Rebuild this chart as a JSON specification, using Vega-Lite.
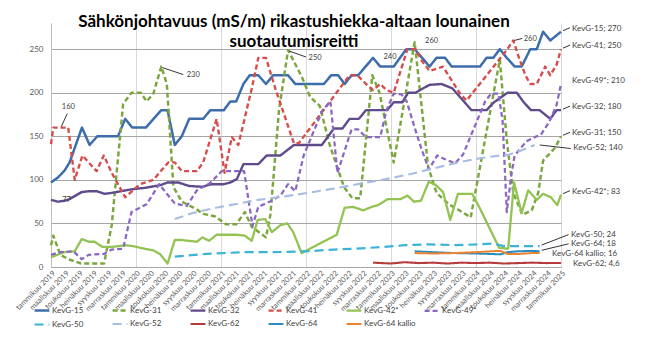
{
"$schema":"https://vega.github.io/schema/vega-lite/v6.json",
"width":510,"height":244,
"autosize":{"type":"none"},
"padding":{"left":51,"top":23,"right":92,"bottom":82},
"background":"white",
"config":{"view":{"stroke":null},"font":"Lato"},
"title":{"text":["Sähkönjohtavuus (mS/m) rikastushiekka-altaan lounainen","suotautumisreitti"],"anchor":"middle","frame":"group","font":"Lato","fontSize":17,"fontWeight":"bold","color":"#000000","lineHeight":20.5,"baseline":"alphabetic","offset":-23,"dx":-12,"dy":18},
"datasets":{
"series":[
{"series":"KevG-15","date":"2019-01-01","value":97},{"series":"KevG-15","date":"2019-02-01","value":103},{"series":"KevG-15","date":"2019-03-01","value":111},{"series":"KevG-15","date":"2019-03-22","value":120},{"series":"KevG-15","date":"2019-05-14","value":160},{"series":"KevG-15","date":"2019-06-16","value":140},{"series":"KevG-15","date":"2019-07-19","value":150},{"series":"KevG-15","date":"2019-10-16","value":150},{"series":"KevG-15","date":"2019-11-16","value":170},{"series":"KevG-15","date":"2019-12-16","value":160},{"series":"KevG-15","date":"2020-02-13","value":160},{"series":"KevG-15","date":"2020-04-19","value":180},{"series":"KevG-15","date":"2020-05-16","value":180},{"series":"KevG-15","date":"2020-06-16","value":140},{"series":"KevG-15","date":"2020-07-16","value":150},{"series":"KevG-15","date":"2020-08-17","value":170},{"series":"KevG-15","date":"2020-10-16","value":170},{"series":"KevG-15","date":"2020-11-16","value":180},{"series":"KevG-15","date":"2021-01-13","value":180},{"series":"KevG-15","date":"2021-02-10","value":190},{"series":"KevG-15","date":"2021-03-07","value":190},{"series":"KevG-15","date":"2021-04-07","value":210},{"series":"KevG-15","date":"2021-05-04","value":220},{"series":"KevG-15","date":"2021-06-10","value":220},{"series":"KevG-15","date":"2021-07-13","value":210},{"series":"KevG-15","date":"2021-08-13","value":220},{"series":"KevG-15","date":"2021-10-16","value":220},{"series":"KevG-15","date":"2021-11-16","value":210},{"series":"KevG-15","date":"2022-03-19","value":210},{"series":"KevG-15","date":"2022-04-19","value":220},{"series":"KevG-15","date":"2022-05-19","value":220},{"series":"KevG-15","date":"2022-06-16","value":210},{"series":"KevG-15","date":"2022-07-16","value":220},{"series":"KevG-15","date":"2022-08-13","value":220},{"series":"KevG-15","date":"2022-10-16","value":240},{"series":"KevG-15","date":"2022-11-16","value":230},{"series":"KevG-15","date":"2023-01-13","value":230},{"series":"KevG-15","date":"2023-03-08","value":250},{"series":"KevG-15","date":"2023-04-13","value":250},{"series":"KevG-15","date":"2023-06-16","value":230},{"series":"KevG-15","date":"2023-07-16","value":240},{"series":"KevG-15","date":"2023-08-22","value":240},{"series":"KevG-15","date":"2023-09-19","value":230},{"series":"KevG-15","date":"2024-01-19","value":230},{"series":"KevG-15","date":"2024-02-16","value":240},{"series":"KevG-15","date":"2024-03-16","value":240},{"series":"KevG-15","date":"2024-04-13","value":250},{"series":"KevG-15","date":"2024-05-13","value":240},{"series":"KevG-15","date":"2024-06-16","value":230},{"series":"KevG-15","date":"2024-07-16","value":230},{"series":"KevG-15","date":"2024-08-22","value":250},{"series":"KevG-15","date":"2024-09-19","value":250},{"series":"KevG-15","date":"2024-10-16","value":270},{"series":"KevG-15","date":"2024-11-16","value":260},{"series":"KevG-15","date":"2025-01-01","value":270},
{"series":"KevG-31","date":"2019-01-01","value":25},{"series":"KevG-31","date":"2019-01-11","value":36},{"series":"KevG-31","date":"2019-02-10","value":14},{"series":"KevG-31","date":"2019-03-16","value":9},{"series":"KevG-31","date":"2019-05-10","value":4},{"series":"KevG-31","date":"2019-08-17","value":4},{"series":"KevG-31","date":"2019-09-19","value":48},{"series":"KevG-31","date":"2019-11-07","value":187},{"series":"KevG-31","date":"2019-12-13","value":200},{"series":"KevG-31","date":"2020-01-22","value":200},{"series":"KevG-31","date":"2020-02-16","value":190},{"series":"KevG-31","date":"2020-03-16","value":199},{"series":"KevG-31","date":"2020-04-19","value":230},{"series":"KevG-31","date":"2020-05-13","value":210},{"series":"KevG-31","date":"2020-06-10","value":92},{"series":"KevG-31","date":"2020-07-16","value":75},{"series":"KevG-31","date":"2020-09-19","value":66},{"series":"KevG-31","date":"2020-10-16","value":61},{"series":"KevG-31","date":"2020-12-07","value":58},{"series":"KevG-31","date":"2021-01-22","value":49},{"series":"KevG-31","date":"2021-03-07","value":49},{"series":"KevG-31","date":"2021-04-13","value":63},{"series":"KevG-31","date":"2021-05-13","value":46},{"series":"KevG-31","date":"2021-07-13","value":34},{"series":"KevG-31","date":"2021-08-01","value":60},{"series":"KevG-31","date":"2021-09-07","value":180},{"series":"KevG-31","date":"2021-10-16","value":249},{"series":"KevG-31","date":"2021-12-16","value":217},{"series":"KevG-31","date":"2022-01-19","value":195},{"series":"KevG-31","date":"2022-03-01","value":185},{"series":"KevG-31","date":"2022-04-13","value":140},{"series":"KevG-31","date":"2022-06-13","value":92},{"series":"KevG-31","date":"2022-07-19","value":79},{"series":"KevG-31","date":"2022-08-22","value":79},{"series":"KevG-31","date":"2022-10-13","value":220},{"series":"KevG-31","date":"2022-11-13","value":200},{"series":"KevG-31","date":"2023-01-13","value":120},{"series":"KevG-31","date":"2023-04-13","value":258},{"series":"KevG-31","date":"2023-06-10","value":115},{"series":"KevG-31","date":"2023-07-16","value":85},{"series":"KevG-31","date":"2023-09-07","value":72},{"series":"KevG-31","date":"2023-10-16","value":66},{"series":"KevG-31","date":"2023-12-10","value":57},{"series":"KevG-31","date":"2024-04-13","value":238},{"series":"KevG-31","date":"2024-05-13","value":145},{"series":"KevG-31","date":"2024-06-10","value":85},{"series":"KevG-31","date":"2024-07-19","value":60},{"series":"KevG-31","date":"2024-08-28","value":65},{"series":"KevG-31","date":"2024-09-25","value":85},{"series":"KevG-31","date":"2024-10-16","value":122},{"series":"KevG-31","date":"2024-12-07","value":137},{"series":"KevG-31","date":"2025-01-01","value":150},
{"series":"KevG-32","date":"2019-01-01","value":77},{"series":"KevG-32","date":"2019-02-01","value":75},{"series":"KevG-32","date":"2019-03-01","value":76},{"series":"KevG-32","date":"2019-03-22","value":78},{"series":"KevG-32","date":"2019-05-13","value":86},{"series":"KevG-32","date":"2019-06-16","value":87},{"series":"KevG-32","date":"2019-07-16","value":87},{"series":"KevG-32","date":"2019-08-19","value":84},{"series":"KevG-32","date":"2019-09-19","value":85},{"series":"KevG-32","date":"2019-12-10","value":89},{"series":"KevG-32","date":"2020-02-13","value":91},{"series":"KevG-32","date":"2020-04-16","value":94},{"series":"KevG-32","date":"2020-05-16","value":97},{"series":"KevG-32","date":"2020-07-01","value":97},{"series":"KevG-32","date":"2020-08-16","value":93},{"series":"KevG-32","date":"2020-10-13","value":92},{"series":"KevG-32","date":"2020-11-19","value":95},{"series":"KevG-32","date":"2021-01-13","value":95},{"series":"KevG-32","date":"2021-02-10","value":97},{"series":"KevG-32","date":"2021-03-10","value":101},{"series":"KevG-32","date":"2021-04-07","value":118},{"series":"KevG-32","date":"2021-06-10","value":118},{"series":"KevG-32","date":"2021-07-16","value":128},{"series":"KevG-32","date":"2021-09-13","value":128},{"series":"KevG-32","date":"2021-11-10","value":140},{"series":"KevG-32","date":"2022-03-10","value":140},{"series":"KevG-32","date":"2022-05-01","value":159},{"series":"KevG-32","date":"2022-06-07","value":159},{"series":"KevG-32","date":"2022-07-07","value":170},{"series":"KevG-32","date":"2022-08-16","value":170},{"series":"KevG-32","date":"2022-09-16","value":180},{"series":"KevG-32","date":"2022-12-16","value":180},{"series":"KevG-32","date":"2023-01-13","value":189},{"series":"KevG-32","date":"2023-02-19","value":189},{"series":"KevG-32","date":"2023-03-16","value":200},{"series":"KevG-32","date":"2023-04-16","value":200},{"series":"KevG-32","date":"2023-05-19","value":205},{"series":"KevG-32","date":"2023-06-16","value":209},{"series":"KevG-32","date":"2023-08-07","value":210},{"series":"KevG-32","date":"2023-09-22","value":205},{"series":"KevG-32","date":"2023-10-25","value":195},{"series":"KevG-32","date":"2023-12-13","value":180},{"series":"KevG-32","date":"2024-02-16","value":180},{"series":"KevG-32","date":"2024-03-19","value":189},{"series":"KevG-32","date":"2024-05-16","value":200},{"series":"KevG-32","date":"2024-06-25","value":200},{"series":"KevG-32","date":"2024-07-25","value":189},{"series":"KevG-32","date":"2024-08-25","value":180},{"series":"KevG-32","date":"2024-10-01","value":180},{"series":"KevG-32","date":"2024-11-16","value":170},{"series":"KevG-32","date":"2024-12-13","value":180},{"series":"KevG-32","date":"2025-01-01","value":180},
{"series":"KevG-41","date":"2019-01-01","value":141},{"series":"KevG-41","date":"2019-01-11","value":160},{"series":"KevG-41","date":"2019-03-16","value":160},{"series":"KevG-41","date":"2019-04-13","value":100},{"series":"KevG-41","date":"2019-05-16","value":128},{"series":"KevG-41","date":"2019-07-16","value":110},{"series":"KevG-41","date":"2019-08-16","value":128},{"series":"KevG-41","date":"2019-09-19","value":108},{"series":"KevG-41","date":"2019-11-16","value":80},{"series":"KevG-41","date":"2020-01-19","value":95},{"series":"KevG-41","date":"2020-03-16","value":100},{"series":"KevG-41","date":"2020-05-19","value":120},{"series":"KevG-41","date":"2020-06-16","value":120},{"series":"KevG-41","date":"2020-07-16","value":110},{"series":"KevG-41","date":"2020-09-19","value":110},{"series":"KevG-41","date":"2020-10-16","value":120},{"series":"KevG-41","date":"2020-12-13","value":170},{"series":"KevG-41","date":"2021-01-16","value":108},{"series":"KevG-41","date":"2021-02-16","value":149},{"series":"KevG-41","date":"2021-03-16","value":140},{"series":"KevG-41","date":"2021-05-13","value":205},{"series":"KevG-41","date":"2021-06-10","value":240},{"series":"KevG-41","date":"2021-07-13","value":240},{"series":"KevG-41","date":"2021-08-22","value":205},{"series":"KevG-41","date":"2021-11-10","value":142},{"series":"KevG-41","date":"2021-12-01","value":142},{"series":"KevG-41","date":"2022-07-07","value":220},{"series":"KevG-41","date":"2022-08-10","value":220},{"series":"KevG-41","date":"2022-09-16","value":210},{"series":"KevG-41","date":"2022-10-16","value":203},{"series":"KevG-41","date":"2022-11-16","value":210},{"series":"KevG-41","date":"2022-12-13","value":203},{"series":"KevG-41","date":"2023-01-13","value":200},{"series":"KevG-41","date":"2023-03-13","value":250},{"series":"KevG-41","date":"2023-04-16","value":250},{"series":"KevG-41","date":"2023-05-13","value":237},{"series":"KevG-41","date":"2023-06-16","value":225},{"series":"KevG-41","date":"2023-08-13","value":230},{"series":"KevG-41","date":"2023-10-25","value":199},{"series":"KevG-41","date":"2023-11-22","value":191},{"series":"KevG-41","date":"2024-05-13","value":249},{"series":"KevG-41","date":"2024-06-10","value":260},{"series":"KevG-41","date":"2024-07-07","value":238},{"series":"KevG-41","date":"2024-08-01","value":220},{"series":"KevG-41","date":"2024-08-22","value":210},{"series":"KevG-41","date":"2024-09-19","value":210},{"series":"KevG-41","date":"2024-10-25","value":230},{"series":"KevG-41","date":"2024-11-16","value":220},{"series":"KevG-41","date":"2024-12-13","value":232},{"series":"KevG-41","date":"2025-01-01","value":250},
{"series":"KevG-42*","date":"2019-01-01","value":11},{"series":"KevG-42*","date":"2019-02-25","value":17},{"series":"KevG-42*","date":"2019-04-13","value":18},{"series":"KevG-42*","date":"2019-05-13","value":32},{"series":"KevG-42*","date":"2019-06-13","value":29},{"series":"KevG-42*","date":"2019-07-07","value":29},{"series":"KevG-42*","date":"2019-08-10","value":23},{"series":"KevG-42*","date":"2019-09-19","value":23},{"series":"KevG-42*","date":"2019-11-16","value":25},{"series":"KevG-42*","date":"2019-12-19","value":24},{"series":"KevG-42*","date":"2020-01-19","value":22},{"series":"KevG-42*","date":"2020-03-16","value":19},{"series":"KevG-42*","date":"2020-04-13","value":15},{"series":"KevG-42*","date":"2020-05-16","value":4},{"series":"KevG-42*","date":"2020-06-16","value":31},{"series":"KevG-42*","date":"2020-07-16","value":31},{"series":"KevG-42*","date":"2020-08-16","value":30},{"series":"KevG-42*","date":"2020-09-19","value":29},{"series":"KevG-42*","date":"2020-10-13","value":34},{"series":"KevG-42*","date":"2020-11-10","value":30},{"series":"KevG-42*","date":"2020-12-13","value":37},{"series":"KevG-42*","date":"2021-01-19","value":37},{"series":"KevG-42*","date":"2021-03-07","value":37},{"series":"KevG-42*","date":"2021-04-13","value":36},{"series":"KevG-42*","date":"2021-05-13","value":30},{"series":"KevG-42*","date":"2021-06-07","value":54},{"series":"KevG-42*","date":"2021-07-10","value":55},{"series":"KevG-42*","date":"2021-08-07","value":40},{"series":"KevG-42*","date":"2021-09-13","value":48},{"series":"KevG-42*","date":"2021-10-13","value":50},{"series":"KevG-42*","date":"2021-11-07","value":40},{"series":"KevG-42*","date":"2021-12-13","value":16},{"series":"KevG-42*","date":"2022-05-13","value":37},{"series":"KevG-42*","date":"2022-06-16","value":68},{"series":"KevG-42*","date":"2022-07-22","value":69},{"series":"KevG-42*","date":"2022-09-04","value":65},{"series":"KevG-42*","date":"2022-10-10","value":69},{"series":"KevG-42*","date":"2022-11-07","value":71},{"series":"KevG-42*","date":"2022-12-19","value":78},{"series":"KevG-42*","date":"2023-02-13","value":78},{"series":"KevG-42*","date":"2023-03-13","value":82},{"series":"KevG-42*","date":"2023-04-10","value":75},{"series":"KevG-42*","date":"2023-05-10","value":76},{"series":"KevG-42*","date":"2023-06-13","value":98},{"series":"KevG-42*","date":"2023-07-13","value":94},{"series":"KevG-42*","date":"2023-08-13","value":86},{"series":"KevG-42*","date":"2023-09-13","value":54},{"series":"KevG-42*","date":"2023-10-16","value":84},{"series":"KevG-42*","date":"2023-12-16","value":84},{"series":"KevG-42*","date":"2024-01-19","value":67},{"series":"KevG-42*","date":"2024-04-10","value":22},{"series":"KevG-42*","date":"2024-05-19","value":21},{"series":"KevG-42*","date":"2024-06-13","value":97},{"series":"KevG-42*","date":"2024-07-16","value":62},{"series":"KevG-42*","date":"2024-08-13","value":88},{"series":"KevG-42*","date":"2024-09-19","value":77},{"series":"KevG-42*","date":"2024-10-16","value":84},{"series":"KevG-42*","date":"2024-11-19","value":80},{"series":"KevG-42*","date":"2024-12-16","value":71},{"series":"KevG-42*","date":"2025-01-01","value":83},
{"series":"KevG-49*","date":"2019-01-01","value":14},{"series":"KevG-49*","date":"2019-02-10","value":17},{"series":"KevG-49*","date":"2019-04-07","value":18},{"series":"KevG-49*","date":"2019-05-13","value":9},{"series":"KevG-49*","date":"2019-06-13","value":14},{"series":"KevG-49*","date":"2019-08-16","value":15},{"series":"KevG-49*","date":"2019-09-19","value":20},{"series":"KevG-49*","date":"2019-11-07","value":21},{"series":"KevG-49*","date":"2019-12-13","value":63},{"series":"KevG-49*","date":"2020-02-16","value":72},{"series":"KevG-49*","date":"2020-04-10","value":95},{"series":"KevG-49*","date":"2020-05-19","value":82},{"series":"KevG-49*","date":"2020-06-16","value":73},{"series":"KevG-49*","date":"2020-08-07","value":70},{"series":"KevG-49*","date":"2020-09-19","value":88},{"series":"KevG-49*","date":"2020-11-13","value":96},{"series":"KevG-49*","date":"2021-01-04","value":110},{"series":"KevG-49*","date":"2021-04-10","value":110},{"series":"KevG-49*","date":"2021-05-16","value":47},{"series":"KevG-49*","date":"2021-06-10","value":69},{"series":"KevG-49*","date":"2021-08-07","value":76},{"series":"KevG-49*","date":"2021-09-13","value":82},{"series":"KevG-49*","date":"2021-10-16","value":95},{"series":"KevG-49*","date":"2021-11-16","value":87},{"series":"KevG-49*","date":"2021-12-22","value":128},{"series":"KevG-49*","date":"2022-03-13","value":180},{"series":"KevG-49*","date":"2022-04-16","value":190},{"series":"KevG-49*","date":"2022-05-16","value":108},{"series":"KevG-49*","date":"2022-07-16","value":158},{"series":"KevG-49*","date":"2022-08-13","value":158},{"series":"KevG-49*","date":"2022-09-16","value":149},{"series":"KevG-49*","date":"2022-11-16","value":149},{"series":"KevG-49*","date":"2022-12-13","value":180},{"series":"KevG-49*","date":"2023-01-13","value":199},{"series":"KevG-49*","date":"2023-02-16","value":198},{"series":"KevG-49*","date":"2023-03-10","value":190},{"series":"KevG-49*","date":"2023-04-13","value":160},{"series":"KevG-49*","date":"2023-05-13","value":135},{"series":"KevG-49*","date":"2023-06-13","value":112},{"series":"KevG-49*","date":"2023-07-19","value":128},{"series":"KevG-49*","date":"2023-08-19","value":124},{"series":"KevG-49*","date":"2023-10-04","value":119},{"series":"KevG-49*","date":"2023-11-07","value":129},{"series":"KevG-49*","date":"2023-12-22","value":158},{"series":"KevG-49*","date":"2024-02-10","value":190},{"series":"KevG-49*","date":"2024-03-07","value":199},{"series":"KevG-49*","date":"2024-04-07","value":199},{"series":"KevG-49*","date":"2024-04-25","value":168},{"series":"KevG-49*","date":"2024-05-13","value":63},{"series":"KevG-49*","date":"2024-06-01","value":105},{"series":"KevG-49*","date":"2024-06-16","value":128},{"series":"KevG-49*","date":"2024-08-04","value":144},{"series":"KevG-49*","date":"2024-09-10","value":149},{"series":"KevG-49*","date":"2024-10-07","value":152},{"series":"KevG-49*","date":"2024-11-10","value":166},{"series":"KevG-49*","date":"2024-12-13","value":186},{"series":"KevG-49*","date":"2025-01-01","value":210},
{"series":"KevG-50","date":"2020-06-16","value":12},{"series":"KevG-50","date":"2020-11-01","value":15},{"series":"KevG-50","date":"2021-04-01","value":17},{"series":"KevG-50","date":"2021-08-16","value":17},{"series":"KevG-50","date":"2022-01-01","value":18},{"series":"KevG-50","date":"2022-05-01","value":20},{"series":"KevG-50","date":"2022-08-01","value":21},{"series":"KevG-50","date":"2022-12-01","value":23},{"series":"KevG-50","date":"2023-03-01","value":25},{"series":"KevG-50","date":"2023-06-16","value":26},{"series":"KevG-50","date":"2023-10-10","value":25},{"series":"KevG-50","date":"2024-01-19","value":26},{"series":"KevG-50","date":"2024-03-16","value":27},{"series":"KevG-50","date":"2024-05-01","value":24},{"series":"KevG-50","date":"2024-07-16","value":24},{"series":"KevG-50","date":"2024-10-01","value":24},
{"series":"KevG-52","date":"2020-06-16","value":55},{"series":"KevG-52","date":"2020-09-01","value":62},{"series":"KevG-52","date":"2020-12-10","value":68},{"series":"KevG-52","date":"2021-03-01","value":72},{"series":"KevG-52","date":"2021-06-10","value":77},{"series":"KevG-52","date":"2021-10-01","value":81},{"series":"KevG-52","date":"2022-01-07","value":85},{"series":"KevG-52","date":"2022-05-01","value":90},{"series":"KevG-52","date":"2022-09-01","value":96},{"series":"KevG-52","date":"2023-01-01","value":102},{"series":"KevG-52","date":"2023-04-01","value":107},{"series":"KevG-52","date":"2023-06-16","value":112},{"series":"KevG-52","date":"2023-08-16","value":116},{"series":"KevG-52","date":"2023-10-16","value":120},{"series":"KevG-52","date":"2024-01-01","value":124},{"series":"KevG-52","date":"2024-03-16","value":127},{"series":"KevG-52","date":"2024-05-25","value":129},{"series":"KevG-52","date":"2024-07-16","value":134},{"series":"KevG-52","date":"2024-09-10","value":140},
{"series":"KevG-62","date":"2022-10-16","value":5},{"series":"KevG-62","date":"2023-01-01","value":4},{"series":"KevG-62","date":"2023-03-01","value":5.5},{"series":"KevG-62","date":"2023-05-01","value":4.5},{"series":"KevG-62","date":"2023-07-01","value":5},{"series":"KevG-62","date":"2023-09-01","value":4},{"series":"KevG-62","date":"2023-11-01","value":5},{"series":"KevG-62","date":"2024-01-01","value":4.5},{"series":"KevG-62","date":"2024-03-01","value":5},{"series":"KevG-62","date":"2024-05-01","value":4},{"series":"KevG-62","date":"2024-07-01","value":4.5},{"series":"KevG-62","date":"2024-09-01","value":5},{"series":"KevG-62","date":"2024-11-01","value":4.5},{"series":"KevG-62","date":"2025-01-01","value":4.6},
{"series":"KevG-64","date":"2023-04-13","value":18},{"series":"KevG-64","date":"2023-07-01","value":17},{"series":"KevG-64","date":"2023-10-01","value":16},{"series":"KevG-64","date":"2024-01-01","value":15.5},{"series":"KevG-64","date":"2024-03-01","value":15},{"series":"KevG-64","date":"2024-04-16","value":14.5},{"series":"KevG-64","date":"2024-05-16","value":17},{"series":"KevG-64","date":"2024-07-01","value":18},{"series":"KevG-64","date":"2024-09-01","value":18.5},{"series":"KevG-64","date":"2024-10-01","value":18},
{"series":"KevG-64 kallio","date":"2023-04-13","value":16},{"series":"KevG-64 kallio","date":"2023-07-01","value":15.5},{"series":"KevG-64 kallio","date":"2023-10-01","value":16},{"series":"KevG-64 kallio","date":"2024-01-01","value":17},{"series":"KevG-64 kallio","date":"2024-03-01","value":18},{"series":"KevG-64 kallio","date":"2024-04-16","value":18.5},{"series":"KevG-64 kallio","date":"2024-05-16","value":15},{"series":"KevG-64 kallio","date":"2024-07-01","value":15},{"series":"KevG-64 kallio","date":"2024-09-01","value":16},{"series":"KevG-64 kallio","date":"2024-10-01","value":16}
],
"labels":[
{"series":"KevG-15","date":"2025-01-01","value":270,"label":"KevG-15; 270"},
{"series":"KevG-41","date":"2025-01-01","value":250,"label":"KevG-41; 250"},
{"series":"KevG-49*","date":"2025-01-01","value":210,"label":"KevG-49*; 210"},
{"series":"KevG-32","date":"2025-01-01","value":180,"label":"KevG-32; 180"},
{"series":"KevG-31","date":"2025-01-01","value":150,"label":"KevG-31; 150"},
{"series":"KevG-42*","date":"2025-01-01","value":83,"label":"KevG-42*; 83"},
{"series":"KevG-52","date":"2024-09-10","value":140,"label":"KevG-52; 140"},
{"series":"KevG-50","date":"2024-10-01","value":24,"label":"KevG-50; 24"},
{"series":"KevG-64","date":"2024-10-01","value":18,"label":"KevG-64; 18"},
{"series":"KevG-64 kallio","date":"2024-10-01","value":16,"label":"KevG-64 kallio; 16"},
{"series":"KevG-62","date":"2025-01-01","value":4.6,"label":"KevG-62; 4,6"},
{"series":"KevG-41","date":"2019-01-11","value":160,"label":"160"},
{"series":"KevG-31","date":"2020-04-19","value":230,"label":"230"},
{"series":"KevG-31","date":"2021-10-16","value":249,"label":"250"},
{"series":"KevG-15","date":"2022-10-16","value":240,"label":"240"},
{"series":"KevG-31","date":"2023-04-13","value":258,"label":"260"},
{"series":"KevG-41","date":"2024-06-10","value":260,"label":"260"},
{"series":"KevG-32","date":"2019-01-01","value":77,"label":"77"}
]
},
"encoding":{
"x":{"field":"date","type":"temporal","scale":{"type":"utc","domain":[{"year":2019,"month":1,"date":1,"utc":true},{"year":2025,"month":1,"date":1,"utc":true}]},
 "axis":{"title":null,"tickCount":{"interval":"month","step":2},"labelExpr":"['tammikuu','helmikuu','maaliskuu','huhtikuu','toukokuu','kesäkuu','heinäkuu','elokuu','syyskuu','lokakuu','marraskuu','joulukuu'][utcmonth(datum.value)] + ' ' + utcyear(datum.value)","labelAngle":-45,"labelAlign":"right","labelBaseline":"top","labelPadding":2,"labelFontSize":7.5,"labelColor":"#595959","labelFont":"Lato","labelOverlap":false,"labelFlush":false,"labelBound":false,"ticks":false,"tickSize":0,"domainColor":"#A6A6A6","grid":true,"gridColor":"#D9D9D9","gridOpacity":{"condition":{"test":"utcmonth(datum.value)==0","value":1},"value":0}}},
"y":{"field":"value","type":"quantitative","scale":{"domain":[0,280],"nice":false},
 "axis":{"title":null,"values":[0,50,100,150,200,250],"labelFontSize":8,"labelColor":"#595959","labelFont":"Lato","labelPadding":8,"ticks":false,"domainColor":"#BFBFBF","grid":true,"gridColor":"#A6A6A6"}}
},
"layer":[
{"data":{"name":"series"},
 "mark":{"type":"line","strokeJoin":"round","strokeCap":"butt"},
 "encoding":{
  "color":{"field":"series","type":"nominal","scale":{"domain":["KevG-15","KevG-31","KevG-32","KevG-41","KevG-42*","KevG-49*","KevG-50","KevG-52","KevG-62","KevG-64","KevG-64 kallio"],"range":["#3D6DAA","#7BA63E","#5F4B8B","#D64B4B","#93C353","#8A68C2","#3BB2D6","#A7BEE2","#B63B3B","#2B8CBE","#EC8330"]},
   "legend":{"orient":"none","legendX":-18,"legendY":278.5,"direction":"horizontal","columns":6,"title":null,"symbolType":"stroke","symbolSize":220,"labelFontSize":8,"labelColor":"#404040","labelFont":"Lato","labelOffset":1,"columnPadding":3,"rowPadding":-4.6,"gridAlign":"all","padding":0}},
  "strokeDash":{"field":"series","type":"nominal","scale":{"domain":["KevG-15","KevG-31","KevG-32","KevG-41","KevG-42*","KevG-49*","KevG-50","KevG-52","KevG-62","KevG-64","KevG-64 kallio"],"range":[[1,0],[5,3],[1,0],[5,3],[1,0],[5,3],[9,5],[9,5],[1,0],[1,0],[1,0]]},
   "legend":{"orient":"none","legendX":-18,"legendY":278.5,"direction":"horizontal","columns":6,"title":null,"symbolType":"stroke","symbolSize":220,"labelFontSize":8,"labelColor":"#404040","labelFont":"Lato","labelOffset":1,"columnPadding":3,"rowPadding":-4.6,"gridAlign":"all","padding":0}},
  "strokeWidth":{"field":"series","type":"nominal","scale":{"domain":["KevG-15","KevG-31","KevG-32","KevG-41","KevG-42*","KevG-49*","KevG-50","KevG-52","KevG-62","KevG-64","KevG-64 kallio"],"range":[2.5,2,2.5,2,2,2,3,3,1.6,1.6,1.6]},
   "legend":{"orient":"none","legendX":-18,"legendY":278.5,"direction":"horizontal","columns":6,"title":null,"symbolType":"stroke","symbolSize":220,"labelFontSize":8,"labelColor":"#404040","labelFont":"Lato","labelOffset":1,"columnPadding":3,"rowPadding":-4.6,"gridAlign":"all","padding":0}}
 }},
{"data":{"name":"labels"},"transform":[{"filter":"indexof(['KevG-15; 270','KevG-41; 250','KevG-32; 180','KevG-31; 150','KevG-42*; 83'], datum.label) >= 0"}],
 "mark":{"type":"rule","color":"#000000","strokeWidth":0.8,"xOffset":2,"yOffset":-1,"x2Offset":9,"y2Offset":-4},
 "encoding":{"x2":{"field":"date"},"y2":{"field":"value"}}},
{"data":{"name":"labels"},"transform":[{"filter":"datum.label=='KevG-52; 140'"}],
 "mark":{"type":"rule","color":"#000000","strokeWidth":0.8,"xOffset":5,"yOffset":0,"x2Offset":36,"y2Offset":3.5},
 "encoding":{"x2":{"field":"date"},"y2":{"field":"value"}}},
{"data":{"name":"labels"},"transform":[{"filter":"datum.label=='KevG-50; 24'"}],
 "mark":{"type":"rule","color":"#000000","strokeWidth":0.8,"xOffset":2,"yOffset":-1,"x2Offset":29,"y2Offset":-11.5},
 "encoding":{"x2":{"field":"date"},"y2":{"field":"value"}}},
{"data":{"name":"labels"},"transform":[{"filter":"datum.label=='KevG-64; 18'"}],
 "mark":{"type":"rule","color":"#000000","strokeWidth":0.8,"xOffset":2,"yOffset":-1,"x2Offset":29,"y2Offset":-7.5},
 "encoding":{"x2":{"field":"date"},"y2":{"field":"value"}}},
{"data":{"name":"labels"},"transform":[{"filter":"datum.label=='160'"}],
 "mark":{"type":"rule","color":"#000000","strokeWidth":0.8,"xOffset":8,"yOffset":-1,"x2Offset":14,"y2Offset":-14},
 "encoding":{"x2":{"field":"date"},"y2":{"field":"value"}}},
{"data":{"name":"labels"},"transform":[{"filter":"datum.label=='230'"}],
 "mark":{"type":"rule","color":"#000000","strokeWidth":0.8,"xOffset":1,"yOffset":1,"x2Offset":22,"y2Offset":8},
 "encoding":{"x2":{"field":"date"},"y2":{"field":"value"}}},
{"data":{"name":"labels"},"transform":[{"filter":"datum.label=='250'"}],
 "mark":{"type":"rule","color":"#000000","strokeWidth":0.8,"xOffset":1,"yOffset":1,"x2Offset":18,"y2Offset":7},
 "encoding":{"x2":{"field":"date"},"y2":{"field":"value"}}},
{"data":{"name":"labels"},"transform":[{"filter":"datum.label=='260' && datum.series=='KevG-41'"}],
 "mark":{"type":"rule","color":"#000000","strokeWidth":0.8,"xOffset":1,"yOffset":0,"x2Offset":9,"y2Offset":-2},
 "encoding":{"x2":{"field":"date"},"y2":{"field":"value"}}},
{"data":{"name":"labels"},"transform":[{"filter":"indexof(['KevG-15; 270','KevG-41; 250','KevG-49*; 210','KevG-32; 180','KevG-31; 150','KevG-42*; 83'], datum.label) >= 0"}],
 "mark":{"type":"text","align":"left","baseline":"middle","dx":11,"dy":-3,"fontSize":8,"font":"Lato","color":"#404040"},
 "encoding":{"text":{"field":"label"}}},
{"data":{"name":"labels"},"transform":[{"filter":"datum.label=='KevG-52; 140'"}],
 "mark":{"type":"text","align":"left","baseline":"middle","dx":38.5,"dy":3,"fontSize":8,"font":"Lato","color":"#404040"},
 "encoding":{"text":{"field":"label"}}},
{"data":{"name":"labels"},"transform":[{"filter":"datum.label=='KevG-50; 24'"}],
 "mark":{"type":"text","align":"left","baseline":"middle","dx":31.5,"dy":-11.5,"fontSize":8,"font":"Lato","color":"#404040"},
 "encoding":{"text":{"field":"label"}}},
{"data":{"name":"labels"},"transform":[{"filter":"datum.label=='KevG-64; 18'"}],
 "mark":{"type":"text","align":"left","baseline":"middle","dx":31.5,"dy":-7.5,"fontSize":8,"font":"Lato","color":"#404040"},
 "encoding":{"text":{"field":"label"}}},
{"data":{"name":"labels"},"transform":[{"filter":"datum.label=='KevG-64 kallio; 16'"}],
 "mark":{"type":"text","align":"left","baseline":"middle","dx":12.5,"dy":1,"fontSize":8,"font":"Lato","color":"#404040"},
 "encoding":{"text":{"field":"label"}}},
{"data":{"name":"labels"},"transform":[{"filter":"datum.label=='KevG-62; 4,6'"}],
 "mark":{"type":"text","align":"left","baseline":"middle","dx":12,"dy":1.5,"fontSize":8,"font":"Lato","color":"#404040"},
 "encoding":{"text":{"field":"label"}}},
{"data":{"name":"labels"},"transform":[{"filter":"datum.label=='160'"}],
 "mark":{"type":"text","align":"center","baseline":"middle","dx":15,"dy":-21,"fontSize":7.5,"font":"Lato","color":"#404040"},
 "encoding":{"text":{"field":"label"}}},
{"data":{"name":"labels"},"transform":[{"filter":"datum.label=='230'"}],
 "mark":{"type":"text","align":"center","baseline":"middle","dx":32,"dy":8,"fontSize":7.5,"font":"Lato","color":"#404040"},
 "encoding":{"text":{"field":"label"}}},
{"data":{"name":"labels"},"transform":[{"filter":"datum.label=='250'"}],
 "mark":{"type":"text","align":"center","baseline":"middle","dx":27,"dy":7.5,"fontSize":7.5,"font":"Lato","color":"#404040"},
 "encoding":{"text":{"field":"label"}}},
{"data":{"name":"labels"},"transform":[{"filter":"datum.label=='240' || datum.label=='260'"}],
 "mark":{"type":"text","align":"center","baseline":"middle","dx":17,"dy":-1,"fontSize":7.5,"font":"Lato","color":"#404040"},
 "encoding":{"text":{"field":"label"}}},
{"data":{"name":"labels"},"transform":[{"filter":"datum.label=='77'"}],
 "mark":{"type":"text","align":"center","baseline":"middle","dx":15.5,"dy":0.5,"fontSize":7.5,"font":"Lato","color":"#404040"},
 "encoding":{"text":{"field":"label"}}}
]
}
